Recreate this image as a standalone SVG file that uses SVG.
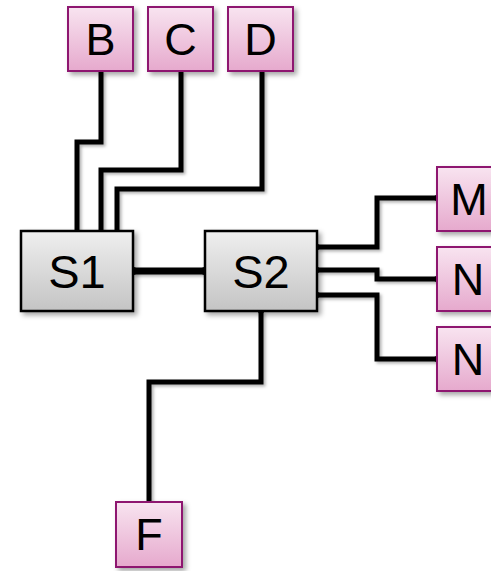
<svg xmlns="http://www.w3.org/2000/svg" width="491" height="571" viewBox="0 0 491 571">
<style>
.pk{fill:url(#gp);stroke:#8e1770;stroke-width:2;filter:url(#sh)}
.sw{fill:url(#gg);stroke:#000;stroke-width:2.5;filter:url(#sh)}
.t{font-family:"Liberation Sans",Arial,sans-serif;font-size:45px;fill:#000;text-anchor:middle}
.ts{font-family:"Liberation Sans",Arial,sans-serif;font-size:47px;fill:#000;text-anchor:middle}
.c{fill:none;stroke:#000;stroke-width:5;stroke-linejoin:miter;filter:url(#sh2)}
</style>
<defs>
<linearGradient id="gp" x1="0" y1="0" x2="0" y2="1"><stop offset="0" stop-color="#f8e4f0"/><stop offset="1" stop-color="#e6a9cd"/></linearGradient>
<linearGradient id="gg" x1="0" y1="0" x2="0" y2="1"><stop offset="0" stop-color="#efefef"/><stop offset="1" stop-color="#c4c4c4"/></linearGradient>
<filter id="sh" x="-20%" y="-20%" width="150%" height="150%"><feDropShadow dx="3" dy="3" stdDeviation="2.5" flood-color="#000" flood-opacity="0.35"/></filter>
<filter id="sh2" filterUnits="userSpaceOnUse" x="0" y="0" width="491" height="571"><feDropShadow dx="2" dy="2" stdDeviation="1.5" flood-color="#000" flood-opacity="0.3"/></filter>
</defs>
<g id="connectors">
<path class="c" d="M101 71 V142 H77 V231"/>
<path class="c" d="M181 71 V170 H101 V231"/>
<path class="c" d="M262 71 V189 H117 V231"/>
<path class="c" d="M133 271 H205" style="stroke-width:7"/>
<circle cx="133" cy="271" r="4"/><circle cx="205" cy="271" r="4"/>
<path class="c" d="M317 247 H377 V198 H437"/>
<path class="c" d="M317 270 H377 V279 H437"/>
<path class="c" d="M317 295 H377 V359 H437"/>
<circle cx="317" cy="247" r="3"/><circle cx="317" cy="270" r="3"/><circle cx="317" cy="295" r="3"/>
<circle cx="437" cy="198" r="3"/><circle cx="437" cy="279" r="3"/><circle cx="437" cy="359" r="3"/>
<path class="c" d="M261 311 V382 H149 V502"/>
<circle cx="261" cy="311" r="3"/>
</g>
<g id="B"><rect class="pk" x="68" y="7" width="65" height="64"/><text class="t" x="100.5" y="55">B</text></g>
<g id="C"><rect class="pk" x="148" y="7" width="65" height="64"/><text class="t" x="180.5" y="55">C</text></g>
<g id="D"><rect class="pk" x="228" y="7" width="65" height="64"/><text class="t" x="260.5" y="55">D</text></g>
<g id="S1"><rect class="sw" x="21" y="231" width="112" height="80"/><text class="ts" x="77" y="288">S1</text></g>
<g id="S2"><rect class="sw" x="205" y="231" width="112" height="80"/><text class="ts" x="261" y="288">S2</text></g>
<g id="M"><rect class="pk" x="437" y="167" width="65" height="64"/><text class="t" x="469" y="215">M</text></g>
<g id="N1"><rect class="pk" x="437" y="247" width="65" height="64"/><text class="t" x="468" y="295">N</text></g>
<g id="N2"><rect class="pk" x="437" y="327" width="65" height="64"/><text class="t" x="468" y="375">N</text></g>
<g id="F"><rect class="pk" x="116" y="502" width="66" height="65"/><text class="t" x="149" y="550">F</text></g>
</svg>
